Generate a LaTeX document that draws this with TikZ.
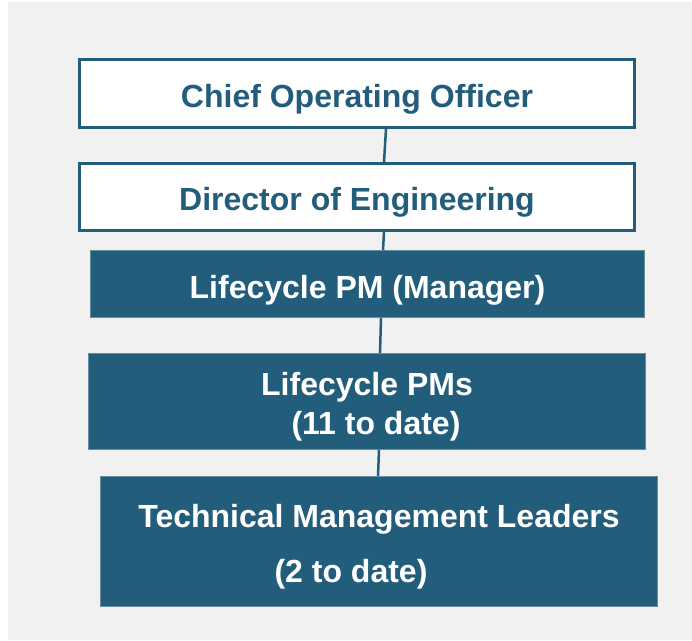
\documentclass[tikz,border=0pt]{standalone}
\usepackage{fontspec}
\setmainfont{Liberation Sans}
\usetikzlibrary{positioning}
\definecolor{orgblue}{RGB}{35,93,124}
\definecolor{pagegray}{RGB}{241,241,241}

\begin{document}
\begin{tikzpicture}[
		x=1pt,y=-1pt,
		outline/.style={
			draw=orgblue,
			line width=3pt,
			fill=white,
			text=orgblue,
			font=\fontsize{32}{39}\selectfont\bfseries,
			align=center,
			inner sep=0pt,
			execute at begin node={\rule{0pt}{34pt}},
			minimum width=555pt
		},
		solid box/.style={
			draw=orgblue!70!white,
			line width=0.8pt,
			fill=orgblue,
			text=white,
			font=\fontsize{32}{39}\selectfont\bfseries,
			align=center,
			inner sep=0pt,
			execute at begin node={\rule{0pt}{34pt}},
			minimum width=557pt
		},
		link/.style={
			draw=orgblue,
			line width=2.5pt
		}
		]
		% page
		\useasboundingbox (0,0) rectangle (692,640);
		\fill[pagegray] (8,2) rectangle (692,640);
		% boxes
		\node[outline,minimum height=68pt] (coo) at (357,93.5) {Chief Operating Officer};
		\node[outline,minimum height=67pt] (dir) at (357,197) {Director of Engineering};
		\node[solid box,minimum height=67pt,minimum width=554pt] (lcm) at (367.5,284) {\rule{0pt}{36pt}Lifecycle PM (Manager)};
		\node[solid box,minimum height=96pt] (lcp) at (367,401.5) {\rule{0pt}{34pt}Lifecycle PMs\\\hspace*{18pt}(11 to date)};
		\node[solid box,minimum height=130pt,font=\fontsize{32}{55}\selectfont\bfseries] (tml) at (379,541.5) {\rule{0pt}{34pt}Technical Management Leaders\\(2 to date)\hspace*{56pt}};
		% links
		\draw[link] ([xshift=29pt]coo.south) -- ([xshift=27pt]dir.north);
		\draw[link] ([xshift=27pt]dir.south) -- ([xshift=15.5pt]lcm.north);
		\draw[link] ([xshift=13.5pt]lcm.south) -- ([xshift=13pt]lcp.north);
		\draw[link] ([xshift=12pt]lcp.south) -- ([xshift=-1pt]tml.north);
		\end{tikzpicture}
\end{document}
